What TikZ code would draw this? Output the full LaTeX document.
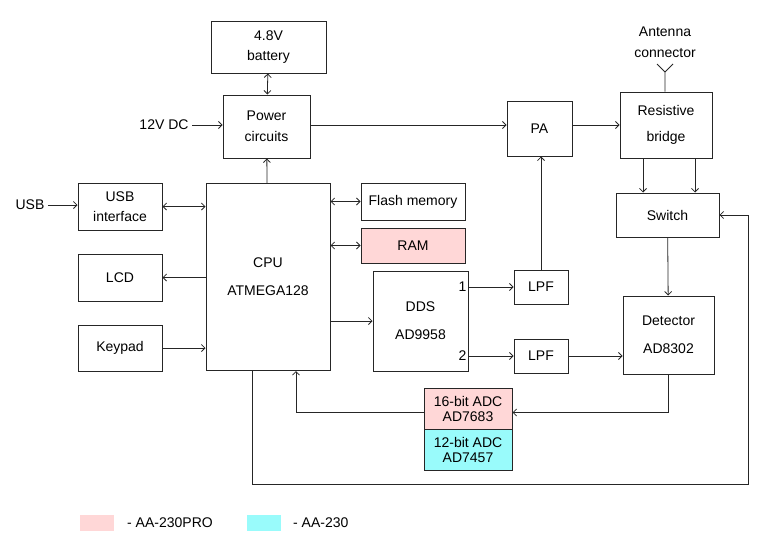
\documentclass[tikz,border=0pt]{standalone}
\usepackage{fontspec}
\setmainfont{Liberation Sans}
\usetikzlibrary{arrows.meta}
\definecolor{mPro}{HTML}{FFD7D7}
\definecolor{mStd}{HTML}{99FBFB}
\definecolor{mLine}{HTML}{262626}
\tikzset{
  >={Straight Barb[length=3.5pt,width=7pt]},
  blk/.style ={draw=mLine,line width=1pt,align=center,inner sep=0pt},
  pro/.style ={blk,fill=mPro},
  std/.style ={blk,fill=mStd},
  sig/.style ={->,line width=0.8pt,mLine},
  bus/.style ={<->,line width=0.8pt,mLine},
}
\begin{document}
\begin{tikzpicture}[x=1pt,y=-1pt,font=\fontsize{14}{20}\selectfont]
  \useasboundingbox (0,0) rectangle (768,549);
  % power
  \node[blk,minimum width=115pt,minimum height=52pt] (bat) at (268.5,47) {4.8V\\battery};
  \node[blk,minimum width=87pt,minimum height=63pt]  (pwr) at (266.5,126.5) {Power\\[1pt]circuits};
  \node (dc) at (164,125) {12V DC};
  % cpu and peripherals
  \node[blk,minimum width=124pt,minimum height=187pt] (cpu) at (268,277) {CPU\\[8pt]ATMEGA128};
  \node (usbin) at (30,205) {USB};
  \node[blk,minimum width=84pt,minimum height=47pt] (usb) at (120,206.5) {USB\\interface};
  \node[blk,minimum width=84pt,minimum height=47pt] (lcd) at (120,277.5) {LCD};
  \node[blk,minimum width=84pt,minimum height=46pt] (key) at (120,348) {Keypad};
  \node[blk,minimum width=104pt,minimum height=37pt] (flash) at (413,201.5) {Flash memory};
  \node[pro,minimum width=104pt,minimum height=35pt] (ram) at (413,245.5) {RAM};
  \node[blk,minimum width=95pt,minimum height=100pt] (dds) at (420.5,321) {DDS\\[8pt]AD9958};
  % rf path
  \node[blk,minimum width=54pt,minimum height=34pt] (lpf1) at (541,287) {LPF};
  \node[blk,minimum width=54pt,minimum height=34pt] (lpf2) at (541,356) {LPF};
  \node[blk,minimum width=65pt,minimum height=55pt] (pa) at (539.5,128.5) {PA};
  \node[blk,minimum width=92pt,minimum height=66pt] (brg) at (666,125) {Resistive\\[6pt]bridge};
  \node[blk,minimum width=103pt,minimum height=44pt] (sw) at (667.5,215) {Switch};
  \node[blk,minimum width=91pt,minimum height=78pt] (det) at (668.5,335) {Detector\\[8pt]AD8302};
  \node[pro,minimum width=88pt,minimum height=41pt,font=\fontsize{14}{15}\selectfont] (adchi) at (468,408.5) {16-bit ADC\\AD7683};
  \node[std,minimum width=88pt,minimum height=41pt,font=\fontsize{14}{15}\selectfont] (adclo) at (468,449.5) {12-bit ADC\\AD7457};
  \node[align=center] (antlbl) at (665,42) {Antenna\\[1pt]connector};
  \coordinate (ant) at (665,72);
  \coordinate (fb) at (748,484);
  % dds port numbers
  \node[anchor=east,inner sep=2pt] (p1) at (dds.east |- lpf1.west) {1};
  \node[anchor=east,inner sep=2pt] (p2) at (dds.east |- lpf2.west) {2};
  % legend
  \node[fill=mPro,minimum width=34pt,minimum height=16pt,inner sep=0pt] (lgpro) at (97,523) {};
  \node[anchor=west,inner sep=0pt] (lgprot) at (127,523) {- AA-230PRO};
  \node[fill=mStd,minimum width=34pt,minimum height=16pt,inner sep=0pt] (lgstd) at (264,523) {};
  \node[anchor=west,inner sep=0pt] (lgstdt) at (293,523) {- AA-230};

  \draw[bus] (bat) -- (pwr);
  \draw[sig] (dc) -- (dc -| pwr.west);
  \draw[sig] (cpu) -- (pwr);
  \draw[sig] (usbin) -- (usbin -| usb.west);
  \draw[bus] (usb.east) -- (usb.east -| cpu.west);
  \draw[sig] (cpu.west |- lcd.east) -- (lcd.east);
  \draw[sig] (key.east) -- (key.east -| cpu.west);
  \draw[bus] (cpu.east |- flash.west) -- (flash.west);
  \draw[bus] (cpu.east |- ram.west) -- (ram.west);
  \draw[sig] (cpu.east |- dds.west) -- (dds.west);
  \draw[sig] (dds.east |- lpf1.west) -- (lpf1.west);
  \draw[sig] (dds.east |- lpf2.west) -- (lpf2.west);
  \draw[sig] (lpf1.north) -- (lpf1.north |- pa.south);
  \draw[sig] (lpf2.east) -- (lpf2.east -| det.west);
  \draw[sig] (pwr.east |- brg.west) -- (pa.west |- brg.west);
  \draw[sig] (pa.east |- brg.west) -- (brg.west);
  \draw[mLine,line width=0.8pt] (brg.north -| ant) -- (ant) -- ++(-8,-8) (ant) -- ++(8,-8);
  \draw[sig] ([xshift=-23pt]brg.south) -- ([xshift=-23pt]brg.south |- sw.north);
  \draw[sig] ([xshift=29pt]brg.south) -- ([xshift=29pt]brg.south |- sw.north);
  \draw[sig] (sw) -- (det);
  \draw[sig] (det.south) |- ([yshift=-4pt]adchi.east);
  \draw[sig] ([yshift=-4pt]adchi.west) -| ([xshift=28pt]cpu.south);
  \draw[sig] ([xshift=-16pt]cpu.south) |- (fb) |- (sw.east);
\end{tikzpicture}
\end{document}
